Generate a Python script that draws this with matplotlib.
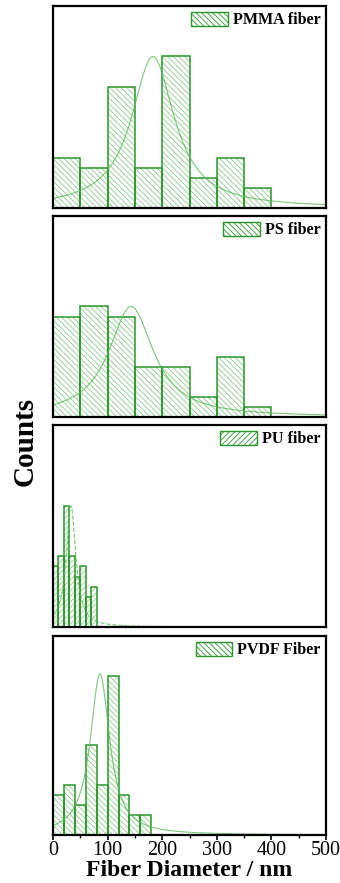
import numpy as np
import matplotlib.pyplot as plt

plt.rcParams["font.family"] = ["Liberation Serif", "DejaVu Serif"]
plt.rcParams["hatch.linewidth"] = 0.6

# histogram data (counts per bin)
pmma_edges = [0, 50, 100, 150, 200, 250, 300, 350, 400]
pmma_counts = [5, 4, 12, 4, 15, 3, 5, 2]

ps_edges = [0, 50, 100, 150, 200, 250, 300, 350, 400]
ps_counts = [10, 11, 10, 5, 5, 2, 6, 1]

pu_edges = [0, 10, 20, 30, 40, 50, 60, 70, 80]
pu_counts = [6, 7, 12, 7, 5, 6, 3, 4]

pvdf_edges = [0, 20, 40, 60, 80, 100, 120, 140, 160, 180]
pvdf_counts = [4, 5, 3, 9, 5, 16, 4, 2, 2]

# fitted peak curves: centre (nm), half width (nm), height (counts)
pmma_fit = (183, 48, 15.0)
ps_fit = (143, 50, 11.0)
pu_fit = (33, 10.5, 12.0)
pvdf_fit = (86, 21.5, 16.2)

labels = ["PMMA fiber", "PS fiber", "PU fiber", "PVDF Fiber"]
hatches = ["\\" * 6, "\\" * 6, "/" * 6, "\\" * 6]

EDGE = "#2a962a"
HATCH = "#8ccc8c"
CURVE = "#5cb85c"

# axes boxes in figure pixels (top, bottom)
W, H = 340, 883
boxes = [(6, 208), (216, 417), (425, 627), (636, 835)]
left, right = 53, 326

fig = plt.figure(figsize=(W / 100, H / 100), dpi=100)

panels = [
    (pmma_edges, pmma_counts, pmma_fit),
    (ps_edges, ps_counts, ps_fit),
    (pu_edges, pu_counts, pu_fit),
    (pvdf_edges, pvdf_counts, pvdf_fit),
]

for i, ((edges, counts, fit), (top, bot)) in enumerate(zip(panels, boxes)):
    ax = fig.add_axes([left / W, 1 - bot / H, (right - left) / W, (bot - top) / H])
    edges = np.array(edges, dtype=float)
    widths = np.diff(edges)
    ax.bar(edges[:-1], counts, width=widths, align="edge", color="none",
           edgecolor=HATCH, hatch=hatches[i], linewidth=0)
    ax.bar(edges[:-1], counts, width=widths, align="edge", color="none",
           edgecolor=EDGE, linewidth=1.1)

    xc, g, h = fit
    xs = np.linspace(0, 500, 600)
    ls = (0, (4, 1.5)) if i == 2 else "-"
    ax.plot(xs, h / (1 + ((xs - xc) / g) ** 2), color=CURVE, lw=0.8,
            alpha=0.8, ls=ls)

    handle = plt.Rectangle((0, 0), 1, 1, facecolor="none", edgecolor=EDGE,
                           hatch=hatches[i], linewidth=1.0)
    ax.legend([handle], [labels[i]], loc="upper right", frameon=False,
              prop={"weight": "bold", "size": 11.5}, handlelength=2.3,
              handleheight=1.0, handletextpad=0.3, borderaxespad=0.15,
              borderpad=0.2)

    ax.set_xlim(0, 500)
    ax.set_ylim(0, 20)
    ax.set_yticks([])
    for s in ax.spines.values():
        s.set_linewidth(1.6)
    if i < 3:
        ax.set_xticks([])
    else:
        ax.set_xticks([0, 100, 200, 300, 400, 500])
        ax.set_xticks([50, 150, 250, 350, 450], minor=True)
        ax.tick_params(axis="x", which="major", direction="out", length=3.5,
                       width=1.2, labelsize=14.5, pad=1)
        ax.tick_params(axis="x", which="minor", direction="out", length=2.5,
                       width=1.0)
        ax.set_xlabel("Fiber Diameter / nm", fontsize=17, fontweight="bold",
                      labelpad=0)

fig.text(25 / W, 1 - 441 / H, "Counts", rotation=90, fontsize=21,
         fontweight="bold", ha="center", va="center")

fig.savefig("out.png", dpi=100)
